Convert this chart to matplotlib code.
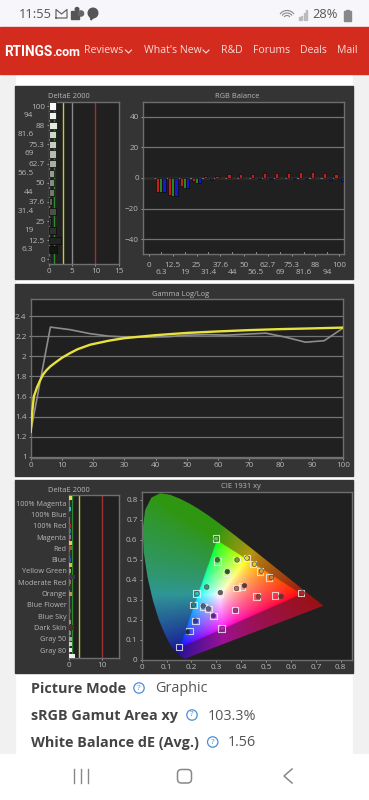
import numpy as np
import matplotlib
matplotlib.use("Agg")
import matplotlib.pyplot as plt
from matplotlib.patches import Rectangle, Polygon, Circle, FancyBboxPatch, Arc
from matplotlib.path import Path

# ---------------------------------------------------------------------------
# data
# ---------------------------------------------------------------------------

W, H = 369, 800

gray_labels = ["100", "94", "88", "81.6", "75.3", "69", "62.7", "56.5", "50", "44", "37.6",
               "31.4", "25", "19", "12.5", "6.3", "0"]
gray_de = [1.6, 1.6, 1.7, 1.4, 1.6, 1.4, 1.6, 1.1, 1.0, 1.0, 0.6, 1.6, 0.4, 1.6, 2.5, 1.8, 0.0]
gray_colors = ["#fbfbfb", "#f0f3ee", "#e4eae0", "#d0d6cb", "#c6ccc0", "#b4bab0", "#a8aea3", "#969c92",
               "#868c82", "#747870", "#5e605a", "#4e504a", "#3e3e3c", "#30302e", "#232321", "#151513", "#000000"]

rgb_levels = ["0", "6.3", "12.5", "19", "25", "31.4", "37.6", "44", "50", "56.5", "62.7", "69",
              "75.3", "81.6", "88", "94", "100"]
rgb_red = [0, -9, -11, -5.5, -2, 1.2, 1.2, 2.5, 2.7, 2.9, 3.3, 3.3, 3.4, 4, 4.2, 3.4, 2.5]
rgb_green = [0, -9, -11.5, -6.5, -3.5, -0.3, 0, 0.2, 0.2, -0.1, 0.2, 0.2, 0.2, 0.3, 0.2, -0.2, -0.4]
rgb_blue = [0, -9, -11.5, -6.5, -3.5, -1.2, -0.1, 0.2, -0.1, -0.7, -0.5, 0.1, -0.6, -0.6, -0.2, -1.5, -2.2]

gamma_x = [0, 6.3, 12.5, 19, 25, 31.4, 37.6, 44, 50, 56.5, 62.7, 69, 75.3, 81.6, 88, 94, 100]
gamma_measured = [1.25, 2.29, 2.265, 2.225, 2.2, 2.19, 2.19, 2.195, 2.21, 2.215, 2.21, 2.22, 2.23,
                  2.19, 2.14, 2.155, 2.28]
ref_x = [0, 0.5, 1, 2, 3, 4, 5, 6.3, 8, 10, 12.5, 15, 19, 25, 30, 40, 50, 60, 70, 80, 90, 100]
ref_y = [1.25, 1.45, 1.6, 1.69, 1.76, 1.82, 1.86, 1.9, 1.94, 1.985, 2.03, 2.07, 2.115, 2.155, 2.18,
         2.21, 2.232, 2.247, 2.26, 2.27, 2.277, 2.285]

patch_labels = ["100% Magenta", "100% Blue", "100% Red", "Magenta", "Red", "Blue", "Yellow Green",
                "Moderate Red", "Orange", "Blue Flower", "Blue Sky", "Dark Skin", "Gray 50", "Gray 80"]
patch_de = [0.9, 0.5, 0.7, 0.4, 0.2, 0.6, 0.6, 0.6, 0.9, 1.1, 0.4, 0.8, 1.0, 0.7, 1.8, 0.6, 0.3,
            0.9, 0.2, 0.3, 0.8, 0.2, 0.7, 1.6, 0.8, 1.0, 1.0, 1.0, 1.9]
patch_colors = ["#e8e040", "#c040c0", "#40b0c0", "#2020c0", "#403050", "#b03030", "#308090", "#a060a0",
                "#e0d040", "#b05040", "#307030", "#4050b0", "#e0b840", "#90b050", "#383848", "#a06060",
                "#303030", "#d09040", "#303030", "#308080", "#4a6a4a", "#307070", "#b08878", "#4a3020",
                "#808a80", "#a0a8a0", "#d0d0d0", "#e8e8e8", "#f0f0f0"]

# spectral locus, blue end round to the red end
locus_x = [0.1741, 0.1689, 0.1566, 0.144, 0.1355, 0.1241, 0.1096, 0.0913, 0.0687, 0.0454, 0.0235, 0.0082,
           0.0039, 0.0139, 0.0389, 0.0743, 0.1142, 0.1547, 0.1929, 0.2296, 0.2658, 0.3016, 0.3373, 0.3731,
           0.4087, 0.4441, 0.4788, 0.5125, 0.5448, 0.5752, 0.6029, 0.627, 0.6658, 0.6915, 0.7079, 0.73]
locus_y = [0.005, 0.0069, 0.0177, 0.0297, 0.0399, 0.0578, 0.0868, 0.1327, 0.2007, 0.295, 0.4127, 0.5384,
           0.6548, 0.7502, 0.812, 0.8338, 0.8262, 0.8059, 0.7816, 0.7543, 0.7243, 0.6923, 0.6589, 0.6245,
           0.5896, 0.5547, 0.5202, 0.4866, 0.4544, 0.4242, 0.3965, 0.3725, 0.334, 0.3083, 0.292, 0.27]

target_x = [0.299, 0.304, 0.38, 0.423, 0.447, 0.475, 0.512, 0.64, 0.536, 0.461, 0.403, 0.38, 0.34, 0.313,
            0.221, 0.208, 0.249, 0.268, 0.288, 0.375, 0.321, 0.216, 0.193, 0.149]
target_y = [0.606, 0.492, 0.5, 0.509, 0.479, 0.441, 0.411, 0.334, 0.322, 0.317, 0.367, 0.359, 0.434, 0.329,
            0.331, 0.274, 0.265, 0.255, 0.22, 0.249, 0.157, 0.194, 0.144, 0.063]
meas_x = [0.299, 0.304, 0.383, 0.423, 0.453, 0.481, 0.521, 0.645, 0.56, 0.469, 0.413, 0.381, 0.344, 0.316,
          0.261, 0.222, 0.208, 0.247, 0.268, 0.288, 0.377, 0.324, 0.216, 0.184]
meas_y = [0.606, 0.5, 0.5, 0.509, 0.479, 0.444, 0.412, 0.334, 0.317, 0.316, 0.371, 0.357, 0.441, 0.336,
          0.364, 0.331, 0.274, 0.269, 0.255, 0.22, 0.247, 0.157, 0.194, 0.139]
meas_colors = ["#50d040", "#3f6a3a", "#7c9440", "#e8e030", "#e8c830", "#d89a40", "#c88040", "#c02020",
               "#802828", "#b03030", "#5a3a30", "#9a7a70", "#3a4a30", "#606060",
               "#489070", "#30c0c0", "#208080", "#40608a", "#6a5a8a", "#5a2a80", "#b02ca0", "#c020c0",
               "#2a3aa0", "#1a2a50"]

# ---------------------------------------------------------------------------

PANEL = "#343434"
PLOT = "#202020"
TXT = "#b8b8b8"
GRID = "#737373"

plt.rcParams['font.family'] = ['Open Sans', 'DejaVu Sans']

fig = plt.figure(figsize=(W / 100, H / 100), dpi=100, facecolor="white")
bg = fig.add_axes([0, 0, 1, 1])
bg.set_xlim(0, W)
bg.set_ylim(H, 0)
bg.axis('off')


def px_axes(x0, y0, x1, y1):
    ax = fig.add_axes([x0 / W, 1 - y1 / H, (x1 - x0) / W, (y1 - y0) / H], facecolor=PLOT)
    for s in ax.spines.values():
        s.set_color("#6e6e6e")
        s.set_linewidth(1.0)
    ax.tick_params(colors=TXT, labelsize=5.9, length=1.5, width=0.7, pad=1.5, color="#a0a0a0")
    return ax


# page chrome
bg.add_patch(Rectangle((0, 0), W, 26, color="#f7f7fb"))
bg.add_patch(Rectangle((0, 74), 15, 680, color="#f1f1f1"))
bg.add_patch(Rectangle((353, 74), 16, 680, color="#f1f1f1"))
bg.add_patch(Rectangle((0, 26.5), W, 47.5, color="#d32c1f"))
bg.text(19, 17.5, "11:55", fontsize=9.3, color="#555555", va='baseline')
bg.text(312, 17.5, "28%", fontsize=9.3, color="#555555", va='baseline')
# status icons
bg.plot([56, 56, 61.5, 67, 67, 56], [18, 9.5, 14, 9.5, 18, 18], color="#666666", lw=0.9)
bg.add_patch(Rectangle((71, 11), 7.5, 7.5, color="#555555"))
bg.add_patch(Circle((81, 13.5), 2.6, color="#666666"))
bg.add_patch(Circle((77, 9.3), 1.8, color="#555555"))
bg.add_patch(Circle((93, 13), 4.8, color="#555555"))
bg.add_patch(Polygon([[90, 15], [94, 17], [91, 20]], color="#555555"))
for r in [3.5, 6, 8.5]:
    bg.add_patch(Arc((287, 19), r * 2, r * 2, theta1=215, theta2=325, color="#888888", lw=0.8))
for i, h in enumerate([2, 3, 5, 7]):
    bg.add_patch(Rectangle((299 + i * 2.4, 20 - h * 1.4), 1, h * 1.4, color="#bbbbbb"))
bg.add_patch(Rectangle((344, 11), 6.5, 9.5, color="#888888"))
bg.add_patch(Rectangle((346, 9.5), 2.5, 1.5, color="#888888"))

bg.text(4, 55.5, "RTINGS", fontsize=9.8, fontweight='bold', color="white", va='baseline', family=['Roboto', 'DejaVu Sans'])
bg.text(52, 55.5, ".com", fontsize=9, fontweight='bold', color="white", va='baseline', family=['Roboto', 'DejaVu Sans'])
for txt, x in [("Reviews", 84), ("What's New", 144), ("R&D", 221.5), ("Forums", 253.5), ("Deals", 300), ("Mail", 336.5)]:
    bg.text(x, 50.5, txt, fontsize=7.6, color="#f8dcd8", va='center')
for x in [125.5, 203]:
    bg.plot([x, x + 3, x + 6], [50, 53, 50], color="#f8dcd8", lw=0.8)

# dark panels
bg.add_patch(Rectangle((15, 86), 338, 193, color=PANEL))
bg.add_patch(Rectangle((15, 284), 338, 192, color=PANEL))
bg.add_patch(Rectangle((15, 480), 338, 193, color=PANEL))

# grayscale deltaE
ax = px_axes(49, 102, 118.7, 264)
ypos = np.arange(len(gray_de))
ax.barh(ypos, gray_de, height=0.74, color=gray_colors, edgecolor="#080808", linewidth=0.5, zorder=3)
ax.set_xlim(0, 15)
ax.set_ylim(16.47, -0.42)
for v, c in [(1, "#2c8a2c"), (3, "#c8c83c"), (5, "#8a8a8a"), (10, "#a03030")]:
    ax.axvline(v, color=c, lw=1.0, zorder=2)
ax.set_xticks([0, 5, 10, 15])
ax.set_yticks(ypos[::2])
ax.set_yticklabels(gray_labels[::2])
for i in ypos[1::2]:
    ax.annotate(gray_labels[i], (0, i), xycoords=('axes fraction', 'data'), xytext=(-15.5, 0),
                textcoords='offset pixels', ha='right', va='center', fontsize=5.9, color=TXT)
bg.text(68.5, 96, "DeltaE 2000", fontsize=5.4, color=TXT, ha='center', va='center')

# RGB balance
ax = px_axes(143, 102, 344, 254)
xp = np.arange(len(rgb_levels))
bw = 0.27
ax.bar(xp - bw, rgb_red, bw, color="#c81c1c", edgecolor="#0c0c0c", linewidth=0.5, zorder=3)
ax.bar(xp, rgb_green, bw, color="#228a22", edgecolor="#0c0c0c", linewidth=0.5, zorder=3)
ax.bar(xp + bw, rgb_blue, bw, color="#1818c8", edgecolor="#0c0c0c", linewidth=0.5, zorder=3)
ax.set_xlim(-0.5, 16.4)
ax.set_ylim(-49.5, 49.5)
ax.set_yticks([-40, -20, 0, 20, 40])
ax.grid(axis='y', color=GRID, lw=0.9, zorder=1)
ax.set_xticks(xp[::2])
ax.set_xticklabels(rgb_levels[::2])
ax.tick_params(axis='x', pad=4)
for i in xp[1::2]:
    ax.annotate(rgb_levels[i], (i, 0), xycoords=('data', 'axes fraction'), xytext=(0, -15), textcoords='offset pixels',
                ha='center', va='top', fontsize=5.9, color=TXT)
    ax.plot([i, i], [-49.5, -48], color="#a0a0a0", lw=0.6, zorder=4)
bg.text(237, 96, "RGB Balance", fontsize=5.4, color=TXT, ha='center', va='center')

# gamma
ax = px_axes(30.7, 298.7, 343, 457.7)
ax.plot(gamma_x, gamma_measured, color="#8c8c8c", lw=1.2, zorder=3)
ax.plot(ref_x, ref_y, color="#e8e23c", lw=1.7, zorder=4)
ax.set_xlim(0, 100)
ax.set_ylim(0.993, 2.572)
ax.set_yticks([1, 1.2, 1.4, 1.6, 1.8, 2, 2.2, 2.4])
ax.set_yticklabels(["1", "1.2", "1.4", "1.6", "1.8", "2", "2.2", "2.4"])
ax.set_xticks(np.arange(0, 101, 10))
ax.grid(axis='y', color=GRID, lw=0.9, zorder=1)
bg.text(181, 294, "Gamma Log/Log", fontsize=5.4, color=TXT, ha='center', va='center')

# colorchecker deltaE
ax = px_axes(68.7, 495, 119, 658)
ypos = np.arange(len(patch_de))
ax.barh(ypos, patch_de, height=0.72, color=patch_colors, linewidth=0, zorder=3)
ax.set_xlim(0, 15)
ax.set_ylim(28.4, -0.45)
for v, c in [(1, "#2c8a2c"), (3, "#c8c83c"), (10, "#a03030")]:
    ax.axvline(v, color=c, lw=1.0, zorder=2)
ax.set_xticks([0, 10])
ax.set_yticks(ypos[1::2])
ax.set_yticklabels(patch_labels)
ax.tick_params(axis='y', length=0, pad=1.5, labelsize=5.2)
bg.text(68.5, 490, "DeltaE 2000", fontsize=5.4, color=TXT, ha='center', va='center')

# CIE 1931
ax = px_axes(141.7, 492, 352, 659.7)
xx, yy = np.meshgrid(np.linspace(0.001, 0.845, 420), np.linspace(0.001, 0.84, 340))
zz = 1 - xx - yy
X = xx / yy
Z = zz / yy
M = np.array([[3.2406, -1.5372, -0.4986], [-0.9689, 1.8758, 0.0415], [0.0557, -0.2040, 1.0570]])
lin = np.stack([M[i, 0] * X + M[i, 1] + M[i, 2] * Z for i in range(3)], axis=-1)
lin = np.clip(lin, 0, None)
lin = lin / lin.max(axis=-1, keepdims=True)
rgb_img = lin ** (1 / 1.55)
tri = Path([(0.64, 0.33), (0.30, 0.60), (0.15, 0.06)])
inside = tri.contains_points(np.c_[xx.ravel(), yy.ravel()]).reshape(xx.shape)
# outside the sRGB triangle the reference is dimmed and a little washed out
out = rgb_img[~inside] * 0.52 + 0.07
out[:, 0] += 0.2 * out[:, 1]
rgb_img[~inside] = np.clip(out, 0, 1)
im = ax.imshow(rgb_img, origin='lower', extent=(0, 0.845, 0, 0.84), aspect='auto', zorder=1)
locus = Polygon(np.c_[locus_x, locus_y], closed=True, transform=ax.transData, fc='none', ec='none')
ax.add_patch(locus)
im.set_clip_path(locus)
ax.set_xlim(0, 0.845)
ax.set_ylim(0, 0.84)
ax.set_xticks(np.arange(0, 0.81, 0.1))
ax.set_xticklabels(["0", "0.1", "0.2", "0.3", "0.4", "0.5", "0.6", "0.7", "0.8"])
ax.set_yticks(np.arange(0, 0.81, 0.1))
ax.set_yticklabels(["0", "0.1", "0.2", "0.3", "0.4", "0.5", "0.6", "0.7", "0.8"])
ax.scatter(target_x, target_y, marker='s', s=22, facecolors='none', edgecolors='#f0f0f0', linewidths=0.8, alpha=0.8, zorder=3)
ax.scatter(meas_x, meas_y, marker='o', s=11, c=meas_colors, edgecolors='#404040', linewidths=0.4, zorder=4)
bg.text(240.5, 486, "CIE 1931 xy", fontsize=5.4, color=TXT, ha='center', va='center')

# text below the charts
bg.add_patch(Rectangle((0, 754), W, 46, color="white", zorder=5))
rows = [("Picture Mode", 689, 139, 155, "Graphic"),
        ("sRGB Gamut Area xy", 716, 192, 208, "103.3%"),
        ("White Balance dE (Avg.)", 743, 212.7, 228, "1.56")]
for lab, y, qx, vx, val in rows:
    bg.text(31, y, lab, fontsize=10.4, fontweight='bold', color="#444444", va='center')
    bg.add_patch(Circle((qx, y - 1), 5.2, fc='none', ec="#4a8fd8", lw=0.9))
    bg.text(qx, y - 1, "?", fontsize=6, color="#4a8fd8", ha='center', va='center')
    bg.text(vx, y, val, fontsize=10.4, color="#555555", va='center')

# android nav bar
for x in [74, 81, 88]:
    bg.plot([x, x], [769, 783], color="#888888", lw=1, zorder=6)
bg.add_patch(FancyBboxPatch((177.5, 769.5), 14, 13.5, boxstyle="round,pad=0,rounding_size=4", fc='none', ec="#888888", lw=1.1, zorder=6))
bg.plot([292, 284, 292], [769, 776, 783], color="#888888", lw=1.1, zorder=6)

fig.savefig("out.png", dpi=100)
